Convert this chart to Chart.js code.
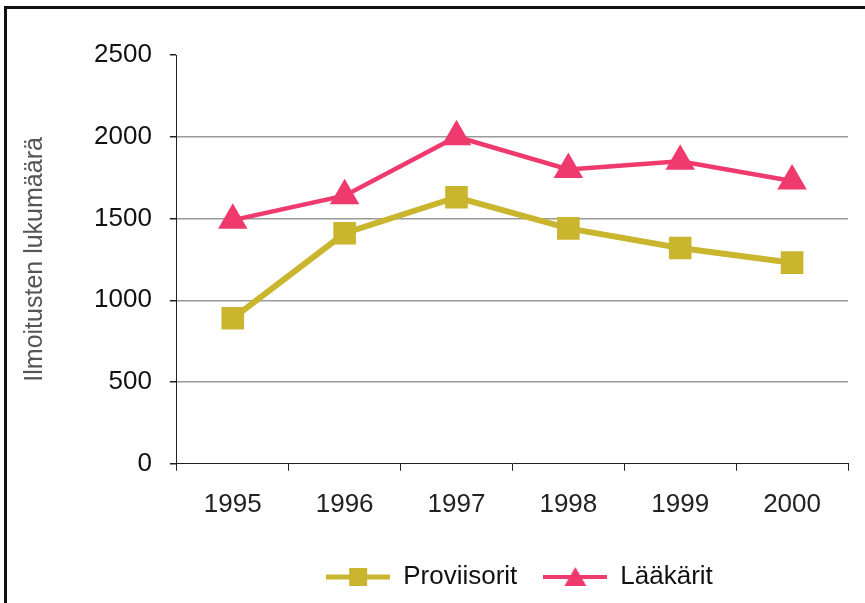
<!DOCTYPE html>
<html>
<head>
<meta charset="utf-8">
<script src="https://cdn.jsdelivr.net/npm/chart.js@4/dist/chart.umd.min.js"></script>
<style>
  body { margin: 0; background: #fff; }
  #wrap { position: relative; width: 865px; height: 603px; overflow: hidden; }
  #frame { position: absolute; left: 4px; top: 6px; width: 900px; height: 700px;
           border-top: 3px solid #111; border-left: 3px solid #111; }
  canvas { position: absolute; left: 0; top: 0; }
</style>
</head>
<body>
<div id="wrap">
  <div id="frame"></div>
  <canvas id="mycanvas" width="865" height="603"></canvas>
</div>
<script>
var vuodet = ['1995', '1996', '1997', '1998', '1999', '2000'];
var proviisorit = [890, 1410, 1630, 1440, 1320, 1230];
var laakarit = [1490, 1640, 2000, 1800, 1850, 1730];
var yTicks = [0, 500, 1000, 1500, 2000, 2500];

var keltainen = '#c9b62e';
var punainen = '#ef3a6e';
var fontti = 'Liberation Sans, Arial, sans-serif';

// legendan merkki: viiva + kuvio
function legendMark(vari, muoto) {
  var c = document.createElement('canvas');
  c.width = 64; c.height = 24;
  var g = c.getContext('2d');
  g.strokeStyle = vari;
  g.lineWidth = muoto == 'rect' ? 5 : 4;
  g.beginPath(); g.moveTo(0, 12); g.lineTo(64, 12); g.stroke();
  g.fillStyle = vari;
  if (muoto == 'rect') {
    g.fillRect(23, 3, 18, 18);
  } else {
    g.beginPath(); g.moveTo(32, 2); g.lineTo(43, 21); g.lineTo(21, 21); g.closePath(); g.fill();
  }
  return c;
}

var chartdata = {
  labels: vuodet,
  datasets: [
    {
      label: 'Proviisorit',
      data: proviisorit,
      borderColor: keltainen,
      backgroundColor: keltainen,
      borderWidth: 6,
      pointStyle: 'rect',
      pointRadius: 16,
      pointBorderWidth: 0,
      legendMark: legendMark(keltainen, 'rect')
    },
    {
      label: 'Lääkärit',
      data: laakarit,
      borderColor: punainen,
      backgroundColor: punainen,
      borderWidth: 4.5,
      pointStyle: 'triangle',
      pointRadius: 17,
      pointBorderWidth: 0,
      legendMark: legendMark(punainen, 'triangle')
    }
  ]
};

// siirretään legendaa oikealle kuten alkuperäisessä
var legendSiirto = {
  id: 'legendSiirto',
  afterLayout: function(chart) {
    chart.legend.left += 170;
  }
};

var ctx = document.getElementById('mycanvas');
var lineGraph = new Chart(ctx, {
  type: 'line',
  data: chartdata,
  plugins: [legendSiirto],
  options: {
    responsive: false,
    animation: false,
    layout: { padding: { top: 55, right: 16, left: 20, bottom: 3 } },
    plugins: {
      tooltip: { enabled: false },
      legend: {
        position: 'bottom',
        labels: {
          usePointStyle: true,
          pointStyleWidth: 64,
          color: '#111',
          font: { family: fontti, size: 26 },
          padding: 26,
          generateLabels: function(chart) {
            return chart.data.datasets.map(function(ds, i) {
              return {
                text: ds.label,
                pointStyle: ds.legendMark,
                fillStyle: ds.borderColor,
                strokeStyle: ds.borderColor,
                lineWidth: 0,
                fontColor: '#111',
                datasetIndex: i,
                hidden: false
              };
            });
          }
        }
      }
    },
    scales: {
      x: {
        offset: true,
        grid: {
          offset: true,
          drawOnChartArea: false,
          tickLength: 7,
          tickColor: '#222'
        },
        border: { color: '#222', width: 1 },
        ticks: {
          color: '#222',
          padding: 18,
          font: { family: fontti, size: 26 }
        }
      },
      y: {
        min: 0,
        max: 2500,
        afterBuildTicks: function(axis) {
          axis.ticks = yTicks.map(function(v) { return { value: v }; });
        },
        grid: {
          color: function(c) {
            return (c.tick && (c.tick.value == 2500 || c.tick.value == 0)) ? 'rgba(0,0,0,0)' : '#9a9a9a';
          },
          lineWidth: 1.5,
          tickLength: 7,
          tickColor: '#222'
        },
        border: { color: '#222', width: 1 },
        ticks: {
          color: '#111',
          padding: 18,
          font: { family: fontti, size: 26 },
          callback: function(v) { return String(v); }
        },
        title: {
          display: true,
          text: 'Ilmoitusten lukumäärä',
          color: '#555',
          padding: { top: 0, bottom: 26 },
          font: { family: fontti, size: 25 }
        }
      }
    }
  }
});
</script>
</body>
</html>
